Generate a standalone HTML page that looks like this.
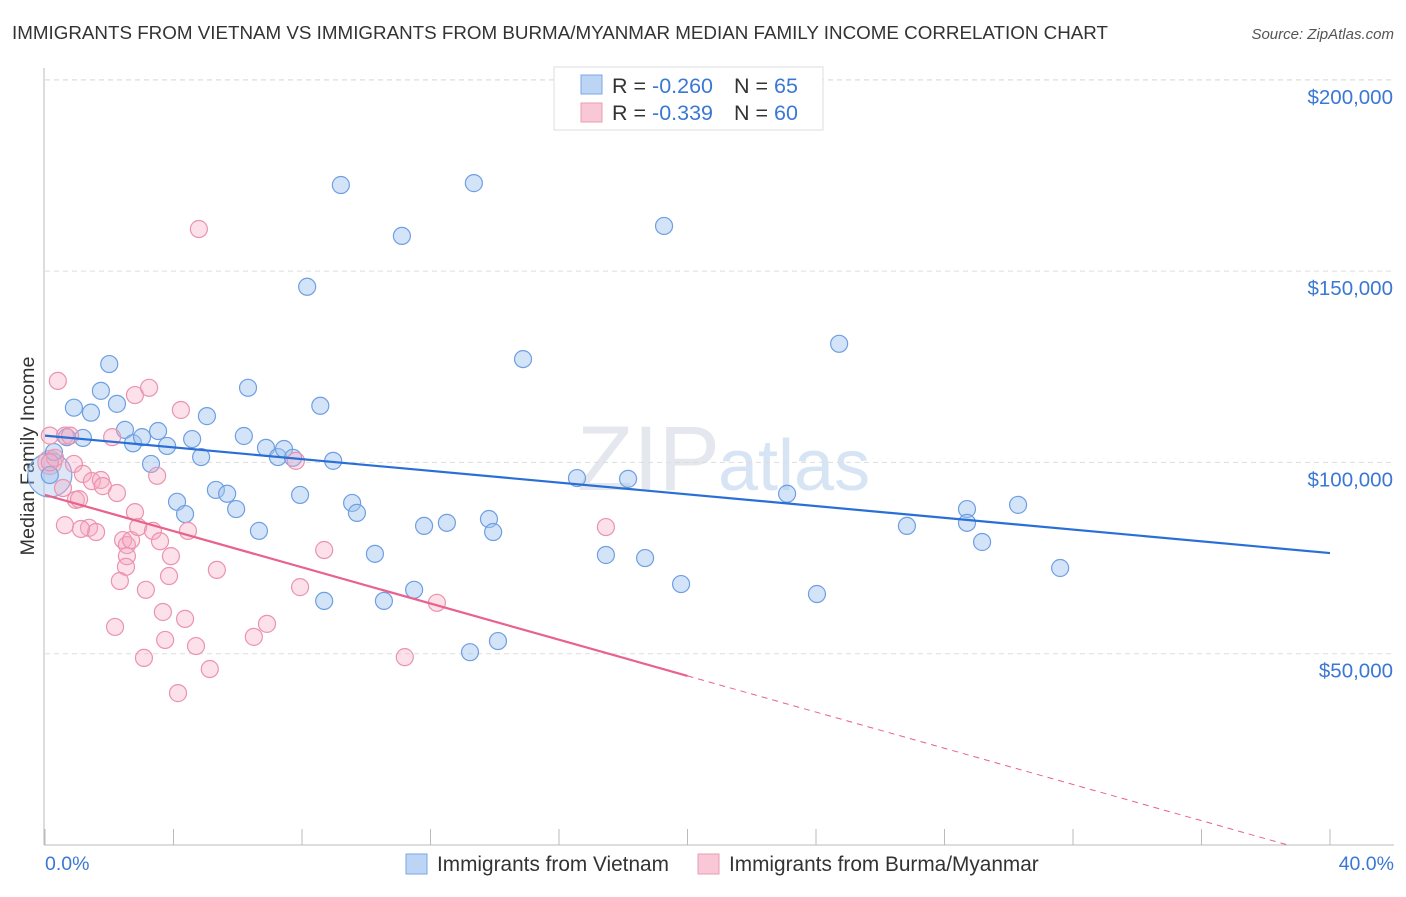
<!DOCTYPE html>
<html><head><meta charset="utf-8"><style>
body{margin:0;background:#fff;font-family:"Liberation Sans",sans-serif;}
svg text{font-family:"Liberation Sans",sans-serif;}
</style></head><body>
<svg id="chart" width="1406" height="892" xmlns="http://www.w3.org/2000/svg">
<text x="12" y="39" font-size="18.8" fill="#333">IMMIGRANTS FROM VIETNAM VS IMMIGRANTS FROM BURMA/MYANMAR MEDIAN FAMILY INCOME CORRELATION CHART</text>
<text x="1394" y="39" font-size="15" fill="#555" font-style="italic" text-anchor="end">Source: ZipAtlas.com</text>
<text x="720" y="490" font-size="92" fill="#e4e8ee" text-anchor="end" font-family="Liberation Serif">ZIP</text>
<text x="718" y="490" font-size="72" fill="#d6e4f4">atlas</text>
<g id="grid"></g>
<line x1="44" y1="68" x2="44" y2="845" stroke="#bbb"/>
<line x1="44" y1="845" x2="1394" y2="845" stroke="#bbb"/>
<text transform="translate(34,456) rotate(-90)" font-size="19.8" fill="#333" text-anchor="middle">Median Family Income</text>
<text x="45" y="870" font-size="19.5" fill="#3a78d4">0.0%</text>
<text x="1394" y="870" font-size="19.5" fill="#3a78d4" text-anchor="end">40.0%</text>
<g id="points"></g>
<g id="lines"></g>
<g>
<rect x="554" y="67" width="269" height="63" fill="#fff" stroke="#ddd"/>
<rect x="581" y="75" width="21" height="19" fill="#bcd5f5" stroke="#7aa8e6"/>
<rect x="581" y="103" width="21" height="19" fill="#f9c8d6" stroke="#ec9bb4"/>
<text x="612" y="93" font-size="21.5" fill="#333">R = <tspan fill="#3a78d4">-0.260</tspan></text>
<text x="734" y="93" font-size="21.5" fill="#333">N = <tspan fill="#3a78d4">65</tspan></text>
<text x="612" y="120" font-size="21.5" fill="#333">R = <tspan fill="#3a78d4">-0.339</tspan></text>
<text x="734" y="120" font-size="21.5" fill="#333">N = <tspan fill="#3a78d4">60</tspan></text>
</g>
<g>
<rect x="406" y="854" width="21" height="20" fill="#bcd5f5" stroke="#7aa8e6"/>
<text x="437" y="871" font-size="20.8" fill="#333">Immigrants from Vietnam</text>
</g>
<g>
<rect x="698" y="854" width="21" height="20" fill="#f9c8d6" stroke="#ec9bb4"/>
<text x="729" y="871" font-size="20.8" fill="#333">Immigrants from Burma/Myanmar</text>
</g>
</svg>
<script>
const yTicks=[50000,100000,150000,200000];
const yTickLabels=["$50,000","$100,000","$150,000","$200,000"];
const xTicks=[0,4,8,12,16,20,24,28,32,36,40];
const vietX=[0.9,1.43,2.0,1.74,2.24,0.28,1.18,2.49,2.74,3.02,3.52,3.3,3.8,4.58,4.86,5.04,6.32,6.19,6.88,7.25,7.44,7.72,8.57,8.97,4.11,4.36,5.32,5.67,5.95,6.66,7.94,9.56,9.71,10.27,8.69,10.55,11.49,11.8,12.51,13.82,13.95,13.23,14.1,8.16,9.21,11.11,13.35,14.88,16.56,18.15,17.46,18.68,19.27,19.8,23.1,24.03,24.72,26.83,28.7,28.7,29.17,30.29,31.6,0.15,0.68];
const vietY=[114.3,113,125.7,118.7,115.3,102.7,106.4,108.5,105,106.6,108.2,99.6,104.3,106.1,101.4,112.1,119.5,106.9,103.8,101.4,103.5,101.2,114.8,100.4,89.7,86.5,92.8,91.8,87.8,82.1,91.5,89.4,86.8,76.1,63.8,63.8,66.7,83.4,84.2,85.2,81.8,50.4,53.3,145.9,172.5,159.2,173,127,95.9,95.7,75.8,75,161.8,68.2,91.8,65.6,131,83.4,87.8,84.2,79.2,88.9,72.4,96.7,106.6];
const burmaX=[0.4,0.15,0.62,0.78,0.31,0.15,0.9,0.56,0.96,1.06,0.62,1.18,1.46,1.37,1.59,1.12,1.74,1.8,2.24,2.09,2.8,3.24,4.23,3.49,2.8,2.43,2.55,2.68,2.9,3.36,3.58,4.45,3.92,2.55,2.52,2.33,3.14,3.86,3.67,4.36,5.35,3.74,4.7,3.08,2.18,4.14,5.13,6.5,6.91,7.94,8.69,4.79,7.81,11.2,12.2,17.46];
const burmaY=[121.3,107,107,107,101.2,100,99.6,93.3,90.2,90.4,83.6,97,95.1,82.9,81.8,82.6,95.4,93.8,92,106.6,117.6,119.5,113.7,96.5,87,79.7,78.4,79.7,83.1,82.1,79.4,82.1,75.5,75.5,72.7,69,66.7,70.3,60.9,59.1,71.9,53.6,52,48.9,57,39.7,46,54.4,57.8,67.4,77.1,161,100.4,49.1,63.3,83.1];
const bigV=[[0.15,96.7,22]], bigB=[[0.15,100,12]];
const vietTrend=[107,76.3], burmaTrend=[91.5,-2.365];
const NS="http://www.w3.org/2000/svg";
const xs=p=>45+p*32.125, ys=v=>845-v/50000*191.3;
const grid=document.getElementById('grid');
yTicks.forEach((t,i)=>{
 const l=document.createElementNS(NS,'line');
 l.setAttribute('x1',45);l.setAttribute('x2',1394);l.setAttribute('y1',ys(t));l.setAttribute('y2',ys(t));
 l.setAttribute('stroke','#ddd');l.setAttribute('stroke-dasharray','5,4');
 
 
 grid.appendChild(l);
 const tx=document.createElementNS(NS,'text');
 tx.setAttribute('x',1393);tx.setAttribute('y',ys(t)+24);tx.setAttribute('text-anchor','end');
 tx.setAttribute('font-size','20.5');tx.setAttribute('fill','#3a78d4');tx.textContent=yTickLabels[i];
 
 
 grid.appendChild(tx);
});
const gtop=document.createElementNS(NS,'line');
gtop.setAttribute('x1',45);gtop.setAttribute('x2',1394);gtop.setAttribute('y1',80);gtop.setAttribute('y2',80);gtop.setAttribute('stroke','#ddd');gtop.setAttribute('stroke-dasharray','5,4');


grid.appendChild(gtop);
xTicks.forEach(t=>{
 const l=document.createElementNS(NS,'line');
 l.setAttribute('x1',xs(t));l.setAttribute('x2',xs(t));l.setAttribute('y1',829);l.setAttribute('y2',845);l.setAttribute('stroke','#bbb');
 
 
 grid.appendChild(l);
});
const pts=document.getElementById('points');
function dot(x,y,r,fill,stroke,name){
 const c=document.createElementNS(NS,'circle');
 c.setAttribute('cx',xs(x));c.setAttribute('cy',ys(y*1000));c.setAttribute('r',r);
 c.setAttribute('fill',fill);c.setAttribute('stroke',stroke);c.setAttribute('stroke-width','1.2');
 
 
 pts.appendChild(c);
}
bigV.forEach(p=>dot(p[0],p[1],p[2],'rgba(160,196,240,0.4)','#7aa8e6','vietnam-point'));
bigB.forEach(p=>dot(p[0],p[1],p[2],'rgba(240,160,190,0.35)','#ec9bb4','burma-point'));
vietX.forEach((x,i)=>dot(x,vietY[i],8.5,'rgba(160,196,240,0.45)','#6e9fe2','vietnam-point'));
burmaX.forEach((x,i)=>dot(x,burmaY[i],8.5,'rgba(245,170,195,0.35)','#eb93ae','burma-point'));
const lg=document.getElementById('lines');
function seg(x1,y1,x2,y2,col,w,dash,name){
 const l=document.createElementNS(NS,'line');
 l.setAttribute('x1',xs(x1));l.setAttribute('y1',ys(y1*1000));l.setAttribute('x2',xs(x2));l.setAttribute('y2',ys(y2*1000));
 l.setAttribute('stroke',col);l.setAttribute('stroke-width',w);if(dash)l.setAttribute('stroke-dasharray',dash);
 
 
 lg.appendChild(l);
}
seg(0,vietTrend[0],40,vietTrend[1],'#2a6fd6',2.2,null,'vietnam-trend-line');
const bAt=x=>burmaTrend[0]+burmaTrend[1]*x;
seg(0,bAt(0),20,bAt(20),'#e8628c',2.2,null,'burma-trend-line');
seg(20,bAt(20),38.7,bAt(38.7),'#e8628c',1,'6,5','burma-trend-extension');
</script>
</body></html>
